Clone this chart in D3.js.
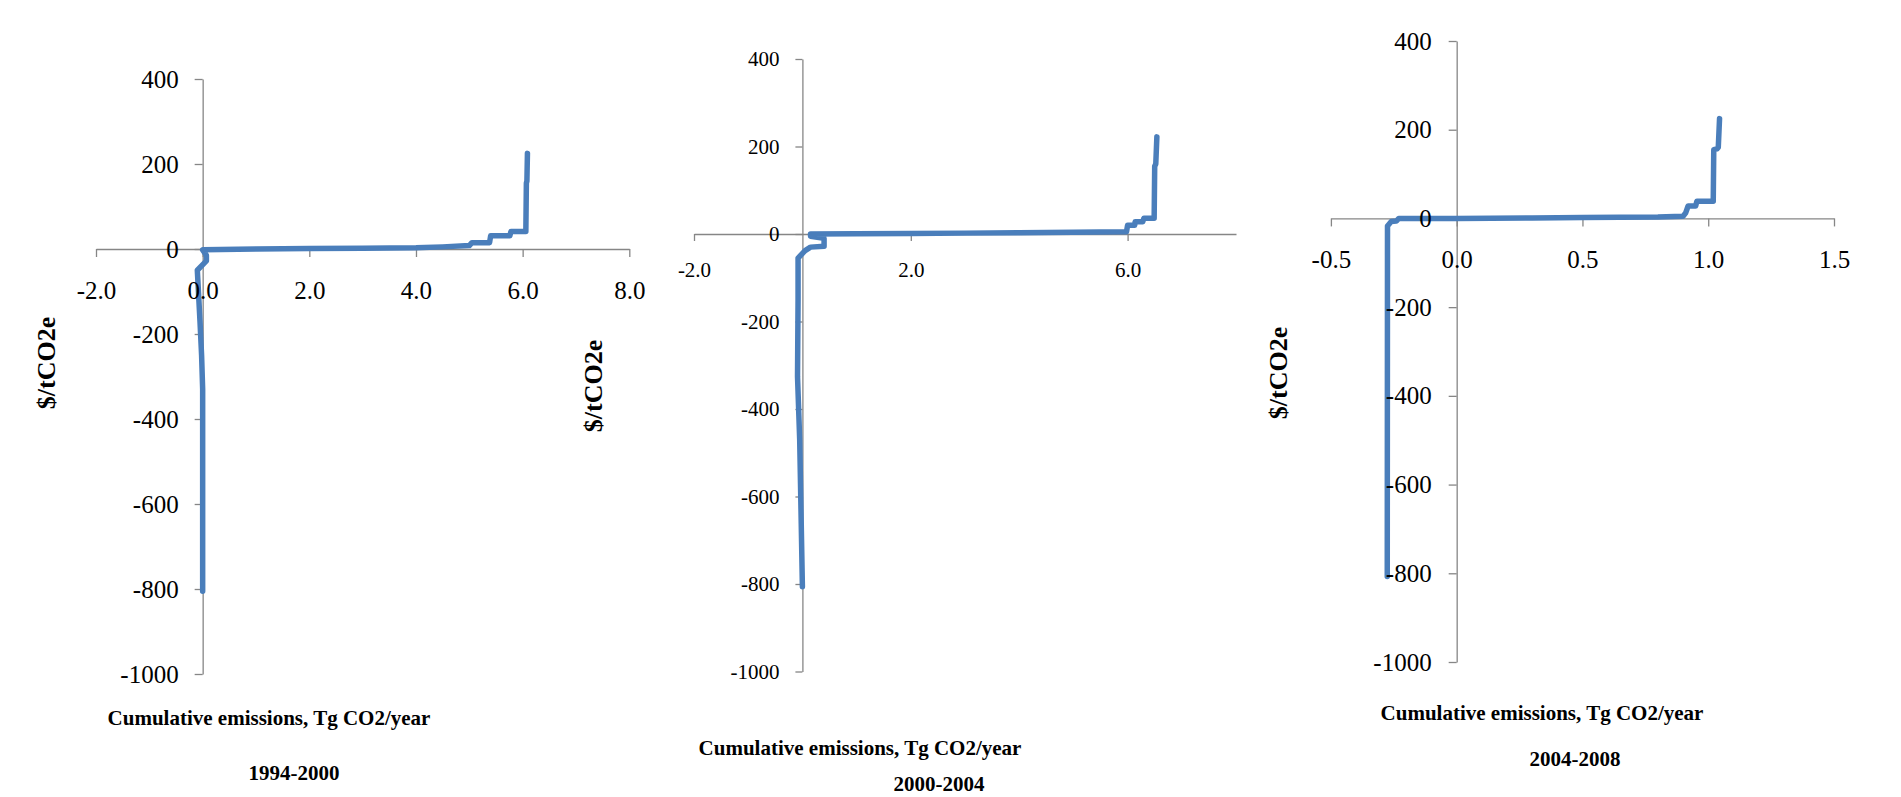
<!DOCTYPE html>
<html>
<head>
<meta charset="utf-8">
<script src="https://cdnjs.cloudflare.com/ajax/libs/d3/7.8.5/d3.min.js"></script>
<style>
  body { margin: 0; background: #fff; }
  svg { display: block; font-family: 'Liberation Serif', 'Times New Roman', serif; }
</style>
</head>
<body>
<script>
// marginal abatement cost curves
const emissions1994 = [0.0, 0.0, -0.02, -0.05, -0.1, 0.07, 0.07, 0.0, 1.0, 2.0, 3.0, 4.0, 4.5, 5.0, 5.05, 5.38, 5.4, 5.76, 5.78, 6.06, 6.07, 6.08, 6.09]
const cost1994 = [-805, -330, -250, -170, -50, -28, -15, -2, 0, 1, 2, 3, 5, 8, 15, 15, 31, 31, 41, 41, 155, 160, 225]

const emissions2000 = [0.0, -0.05, -0.09, -0.08, -0.08, 0.05, 0.15, 0.4, 0.4, 0.15, 0.15, 1.0, 2.0, 3.0, 4.0, 5.0, 5.98, 6.0, 6.13, 6.14, 6.28, 6.3, 6.49, 6.5, 6.52, 6.54]
const cost2000 = [-806, -470, -326, -150, -55, -38, -30, -28, -10, -5, 0, 0.5, 1, 2, 3, 4, 5, 20, 20, 28, 28, 36, 36, 155, 160, 222]

const emissions2004 = [-0.276, -0.275, -0.26, -0.24, -0.23, 0.0, 0.3, 0.5, 0.8, 0.9, 0.91, 0.92, 0.95, 0.955, 1.02, 1.022, 1.035, 1.04, 1.045]
const cost2004 = [-807, -17, -7, -6, 0, 0, 1, 2, 3, 5, 12, 28, 28, 39, 39, 155, 157, 160, 225]

const periods = ['1994-2000', '2000-2004', '2004-2008']
const costTicks = [-1000, -800, -600, -400, -200, 0, 200, 400]
const emissionTicks1994 = [-2, 0, 2, 4, 6, 8]
const emissionTicks2000 = [-2, 2, 6]
const emissionTicks2004 = [-0.5, 0, 0.5, 1, 1.5]
const xTitle = 'Cumulative emissions, Tg CO2/year'
const yTitle = '$/tCO2e'

const width = 1901
const height = 797
const axisColor = '#868686'
const lineColor = '#4a7ebb'

// where each panel sits on the page
const panels = [
  {
    xs: emissions1994, ys: cost1994, ticks: emissionTicks1994, period: periods[0],
    xDomain: [-2, 8], xRange: [96, 629.3], yRange: [674, 79],
    font: 25, tick: 8, padX: 24, padY: 16,
    yTitleAt: [46, 363], xTitleAt: [269, 725], periodAt: [294, 780]
  },
  {
    xs: emissions2000, ys: cost2000, ticks: emissionTicks2000, period: periods[1],
    xDomain: [-2, 8], xRange: [694, 1236], yRange: [671.5, 59],
    font: 21, tick: 7, padX: 21, padY: 16,
    yTitleAt: [593, 386], xTitleAt: [860, 755], periodAt: [939, 791]
  },
  {
    xs: emissions2004, ys: cost2004, ticks: emissionTicks2004, period: periods[2],
    xDomain: [-0.5, 1.5], xRange: [1330.9, 1834], yRange: [662, 41],
    font: 25, tick: 8, padX: 24, padY: 17,
    yTitleAt: [1278, 373], xTitleAt: [1542, 720], periodAt: [1575, 766]
  }
]

const svg = d3.select('body').append('svg')
  .attr('width', width)
  .attr('height', height)

function drawPanel(p) {
  const x = d3.scaleLinear().domain(p.xDomain).range(p.xRange)
  const y = d3.scaleLinear().domain([-1000, 400]).range(p.yRange)
  const g = svg.append('g')

  // axis lines and tick marks first, the curve covers them
  g.append('g')
    .attr('transform', `translate(0, ${y(0)})`)
    .call(d3.axisBottom(x).tickValues(p.ticks).tickSize(p.tick).tickSizeOuter(0).tickFormat(''))

  g.append('g')
    .attr('transform', `translate(${x(0)}, 0)`)
    .call(d3.axisLeft(y).tickValues(costTicks).tickSize(p.tick).tickSizeOuter(0).tickFormat(''))

  g.selectAll('.domain, .tick line')
    .attr('stroke', axisColor)
    .attr('stroke-width', 1.3)

  const line = d3.line()
    .x(d => x(d[0]))
    .y(d => y(d[1]))

  g.append('path')
    .datum(d3.zip(p.xs, p.ys))
    .attr('fill', 'none')
    .attr('stroke', lineColor)
    .attr('stroke-width', 5.5)
    .attr('stroke-linejoin', 'round')
    .attr('stroke-linecap', 'round')
    .attr('d', line)

  // tick labels on top
  const xLabels = g.append('g')
    .attr('transform', `translate(0, ${y(0)})`)
    .call(d3.axisBottom(x).tickValues(p.ticks).tickSize(0).tickPadding(p.tick + p.padX).tickFormat(d => d.toFixed(1)))

  const yLabels = g.append('g')
    .attr('transform', `translate(${x(0)}, 0)`)
    .call(d3.axisLeft(y).tickValues(costTicks).tickSize(0).tickPadding(p.tick + p.padY).tickFormat(d => String(d)))

  for (const a of [xLabels, yLabels]) {
    a.select('.domain').remove()
    a.selectAll('text')
      .attr('fill', '#000')
      .style('font-family', "'Liberation Serif', serif")
      .style('font-size', p.font + 'px')
  }

  g.append('text')
    .attr('transform', `translate(${p.yTitleAt[0]}, ${p.yTitleAt[1]}) rotate(-90)`)
    .attr('text-anchor', 'middle')
    .attr('dy', '0.33em')
    .style('font-size', '26px')
    .style('font-weight', 'bold')
    .text(yTitle)

  g.append('text')
    .attr('x', p.xTitleAt[0])
    .attr('y', p.xTitleAt[1])
    .attr('text-anchor', 'middle')
    .style('font-size', '21px')
    .style('font-weight', 'bold')
    .text(xTitle)

  g.append('text')
    .attr('x', p.periodAt[0])
    .attr('y', p.periodAt[1])
    .attr('text-anchor', 'middle')
    .style('font-size', '21px')
    .style('font-weight', 'bold')
    .text(p.period)
}

panels.forEach(drawPanel)
</script>
</body>
</html>
